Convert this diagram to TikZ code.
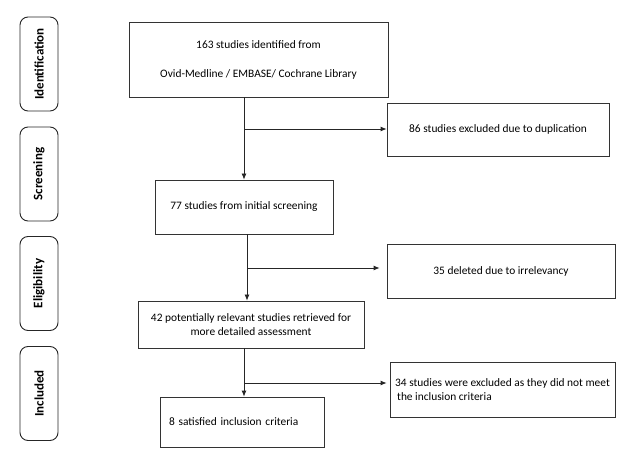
\documentclass[tikz,border=0pt]{standalone}
\usepackage{fontspec}
\setmainfont{Carlito}
\usetikzlibrary{arrows.meta}
\begin{document}
\begin{tikzpicture}[x=1pt,y=-1pt,
  box/.style={draw=black!80,line width=0.8pt,rectangle,inner sep=0pt,font=\fontsize{11.4}{14}\selectfont},
  stage/.style={draw=black!85,line width=0.9pt,rounded corners=8pt,minimum width=38pt,minimum height=94pt,inner sep=0pt},
  stagetext/.style={rotate=90,font=\fontsize{13}{15}\selectfont\bfseries},
  arr/.style={draw=black!85,line width=0.8pt,-{Latex[length=6pt,width=5pt]}}]
\useasboundingbox (0,0) rectangle (629,462);
% stage labels
\node[stage] (s1) at (39,64) {};
\node[stagetext] (t1) at (s1) {Identification};
\node[stage] (s2) at (39,174) {};
\node[stagetext] (t2) at (s2) {Screening};
\node[stage] (s3) at (39,283.5) {};
\node[stagetext] (t3) at (s3) {Eligibility};
\node[stage] (s4) at (39,393.5) {};
\node[stagetext] (t4) at (s4) {Included};
% boxes
\node[box,minimum width=259pt,minimum height=75pt,align=center] (b1) at (258.5,59.5) {163 studies identified from\\[15pt]Ovid-Medline / EMBASE/ Cochrane Library};
\node[box,minimum width=222pt,minimum height=53pt] (b3) at (498,129.5) {86 studies excluded due to duplication};
\node[box,minimum width=178pt,minimum height=54pt] (b2) at (244,207) {77 studies from initial screening};
\node[box,minimum width=228pt,minimum height=54pt] (b5) at (501,271) {35 deleted due to irrelevancy};
\node[box,minimum width=226pt,minimum height=47pt,align=center] (b4) at (251,324.5) {42 potentially relevant studies retrieved for\\more detailed assessment};
\node[box,minimum width=225pt,minimum height=55pt,align=left] (b7) at (502.5,389.5) {34 studies were excluded as they did not meet\\\hspace*{2pt}the inclusion criteria};
\node[box,minimum width=164pt,minimum height=50pt,align=left,text width=146pt] (b6) at (242,422) {8 satisfied inclusion criteria};
% spine coordinates
\coordinate (c1) at (244,129);
\coordinate (c2) at (247,268);
\coordinate (c3) at (244,383);
% connectors
\draw[arr] (b1.south -| c1) -- (b2.north -| c1);
\draw[arr] (c1) -- (c1 -| b3.west);
\draw[arr] (b2.south -| c2) -- (b4.north -| c2);
\draw[arr,shorten >=7pt] (c2) -- (c2 -| b5.west);
\draw[arr] (b4.south -| c3) -- (b6.north -| c3);
\draw[arr,shorten >=3pt] (c3) -- (c3 -| b7.west);
\end{tikzpicture}
\end{document}
